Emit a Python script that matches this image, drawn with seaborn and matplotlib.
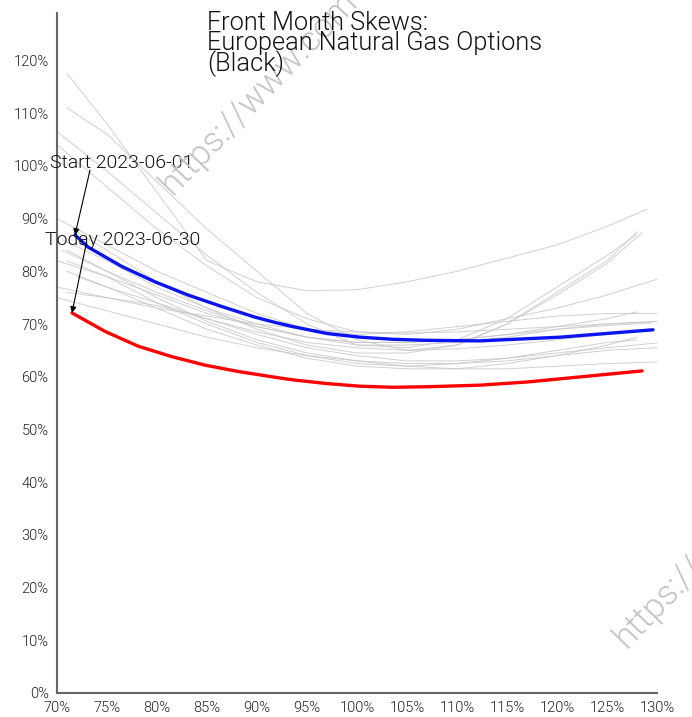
import matplotlib
matplotlib.use("Agg")
import matplotlib.pyplot as plt
import seaborn as sns
import pandas as pd

# ---- data (moneyness %, implied vol %) ----
start_x = [71.8, 73.1, 76.5, 79.8, 83.1, 86.5, 89.8, 91.8, 93.6, 97.0, 100.3, 103.6, 107.0, 112.3, 120.3, 123.6, 129.6]
start_y = [86.9, 84.6, 80.9, 78.0, 75.5, 73.3, 71.3, 70.3, 69.5, 68.2, 67.5, 67.1, 66.9, 66.8, 67.5, 68.0, 68.9]

today_x = [71.5, 74.8, 78.1, 81.5, 84.8, 88.1, 91.8, 93.6, 97.0, 100.3, 103.6, 107.0, 112.3, 117.0, 123.6, 128.5]
today_y = [72.1, 68.6, 65.8, 63.8, 62.2, 61.0, 59.9, 59.4, 58.7, 58.2, 58.0, 58.1, 58.4, 59.0, 60.2, 61.1]

grid_x = [75, 80, 85, 90, 95, 100, 105, 110, 115, 120, 125]
hist_start_x = [71.0, 71.0, 70.0, 70.0, 70.0, 70.5, 70.0, 70.0, 71.0, 71.0, 71.0, 71.0, 70.0, 72.0, 71.5, 70.5]
hist_start_y = [117.5, 111.0, 106.5, 104.0, 90.0, 86.0, 82.0, 77.0, 76.0, 80.0, 82.0, 84.0, 75.0, 79.0, 88.0, 84.0]
hist_mid_y = [
    [108, 95, 82, 78, 76.3, 76.5, 78, 80, 82.5, 85, 88.5],
    [106, 97, 88, 80, 72, 67, 65, 66, 70, 76, 82],
    [99, 91, 83, 76, 70, 66, 65.5, 67, 71, 77, 83],
    [96, 88, 81, 75, 71, 68.5, 68, 69, 71, 73, 75.5],
    [85, 80, 76, 72, 69, 68, 68.5, 69.5, 70.5, 71.5, 72],
    [82, 77, 73, 70, 67.5, 66, 66, 66.5, 67.5, 69, 70],
    [79, 75.5, 72, 69.5, 67.5, 66.5, 66.5, 67, 68, 69, 69.7],
    [75, 73, 71.5, 70, 69, 68.5, 68.3, 68.5, 69, 69.5, 70],
    [75, 73.5, 71, 68, 65.5, 64, 63, 63, 63.5, 64.5, 65.5],
    [77, 73, 69, 66, 63.5, 62, 61.5, 61.5, 62.5, 64, 66],
    [79, 74, 70, 66.5, 64, 62.5, 62, 62.5, 63.5, 65, 66.5],
    [80, 75, 70.5, 67, 64.5, 63, 62, 61.5, 61.5, 62, 62.5],
    [72.5, 70, 67.5, 65.5, 64, 63, 62.5, 62.5, 63, 64, 65],
    [77, 74, 71, 68.5, 66.5, 65.5, 65, 65.3, 66, 67, 68],
    [84, 78, 73, 69, 66, 64.5, 64.5, 66, 70, 75.5, 81.5],
    [80, 76, 72.5, 69.5, 67.5, 66.5, 66.5, 67, 68, 69.5, 71],
]
hist_end_x = [129.0, 128.0, 128.0, 130.0, 130.0, 130.0, 129.5, 130.0, 130.0, 128.0, 128.0, 130.0, 130.0, 128.0, 128.5, 128.0]
hist_end_y = [91.8, 87.5, 87.0, 78.5, 72.0, 70.5, 70.2, 70.5, 66.4, 67.5, 67.0, 62.8, 65.5, 69.0, 87.3, 72.3]

x_ticks = [70, 75, 80, 85, 90, 95, 100, 105, 110, 115, 120, 125, 130]
y_ticks = [0, 10, 20, 30, 40, 50, 60, 70, 80, 90, 100, 110, 120]

title_text = "Front Month Skews:\nEuropean Natural Gas Options\n(Black)"
start_label = "Start 2023-06-01"
today_label = "Today 2023-06-30"
watermark = "https://www.com"

# ---- build frames ----
rows = []
for i in range(len(hist_start_x)):
    xs = [hist_start_x[i]] + grid_x + [hist_end_x[i]]
    ys = [hist_start_y[i]] + hist_mid_y[i] + [hist_end_y[i]]
    for x, y in zip(xs, ys):
        rows.append({"k": x, "v": y, "day": i})
hist = pd.DataFrame(rows)

sns.set_style("white")
plt.rcParams["font.family"] = ["Roboto", "DejaVu Sans"]
W = 300  # Roboto Light

fig = plt.figure(figsize=(6.92, 7.17), dpi=100)
ax = fig.add_axes([57 / 692, 24 / 717, 600 / 692, 680 / 717])

sns.lineplot(data=hist, x="k", y="v", units="day", estimator=None, sort=False,
             color="#c8c8c8", linewidth=0.7, alpha=0.85, ax=ax, legend=False)
sns.lineplot(x=start_x, y=start_y, color="#0a14f0", linewidth=2.4, sort=False, ax=ax)
sns.lineplot(x=today_x, y=today_y, color="#ff0000", linewidth=2.4, sort=False, ax=ax)

ax.set_xlim(70, 130)
ax.set_ylim(0, 129)
ax.set_xticks(x_ticks)
ax.set_yticks(y_ticks)
ax.set_xticklabels([f"{t}%" for t in x_ticks])
ax.set_yticklabels([f"{t}%" for t in y_ticks])
ax.set_xlabel("")
ax.set_ylabel("")
for s in ["top", "right"]:
    ax.spines[s].set_visible(False)
for s in ["left", "bottom"]:
    ax.spines[s].set_color("#666666")
    ax.spines[s].set_linewidth(1.5)
ax.tick_params(axis="both", length=5, width=1, color="#333333", labelsize=10.5,
               labelcolor="#222222", pad=1, direction="out")
for lab in ax.get_xticklabels() + ax.get_yticklabels():
    lab.set_fontweight(W)

# annotations
ax.text(76.5, 100.6, start_label, fontsize=14, fontweight=W, color="#111111",
        ha="center", va="center")
ax.text(76.6, 86.0, today_label, fontsize=14, fontweight=W, color="#111111",
        ha="center", va="center")
ax.annotate("", xy=(start_x[0], start_y[0]), xytext=(73.3, 99.2),
            arrowprops=dict(arrowstyle="-|>", color="black", lw=0.8, mutation_scale=9,
                            shrinkA=0, shrinkB=0))
ax.annotate("", xy=(today_x[0], today_y[0]), xytext=(72.9, 85.0),
            arrowprops=dict(arrowstyle="-|>", color="black", lw=0.8, mutation_scale=9,
                            shrinkA=0, shrinkB=0))

# title
fig.text(207 / 692, 1 - 11 / 717, title_text, fontsize=18.3, fontweight=W,
         color="#111111", ha="left", va="top", linespacing=0.78)

# watermarks
for wx, wy in [(172 / 692, 1 - 196 / 717), (626 / 692, 1 - 649 / 717)]:
    fig.text(wx, wy, watermark, fontsize=25, fontweight=W, color="#c4c4c4",
             rotation=46, rotation_mode="anchor", ha="left", va="baseline", zorder=0)

fig.savefig("out.png", dpi=100)
